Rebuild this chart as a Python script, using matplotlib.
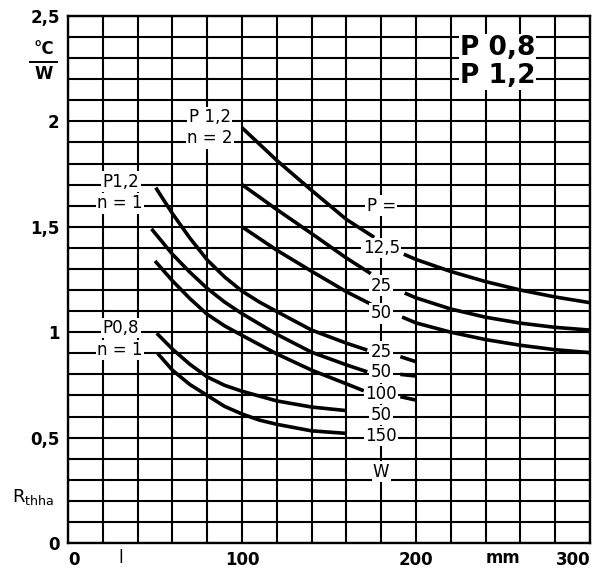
import numpy as np
import matplotlib
matplotlib.use("Agg")
import matplotlib.pyplot as plt
from matplotlib.lines import Line2D

nan = np.nan

# P 1,2  n = 2  (P = 12,5 / 25 / 50 W)
x_n2_125 = [100, 120, 140, 160, 176, nan, 193, 200, 220, 240, 260, 280, 300]
y_n2_125 = [1.97, 1.815, 1.673, 1.535, 1.45, nan, 1.37, 1.345, 1.288, 1.24, 1.20, 1.167, 1.14]
x_n2_25 = [100, 120, 140, 160, 174, nan, 193.5, 200, 220, 240, 260, 280, 300]
y_n2_25 = [1.70, 1.582, 1.468, 1.352, 1.278, nan, 1.186, 1.163, 1.11, 1.071, 1.043, 1.023, 1.01]
x_n2_50 = [100, 120, 140, 160, 176, nan, 192, 200, 220, 240, 260, 280, 300]
y_n2_50 = [1.50, 1.389, 1.289, 1.192, 1.125, nan, 1.072, 1.044, 1.0, 0.965, 0.938, 0.917, 0.903]

# P 1,2  n = 1  (P = 25 / 50 / 100 W)
x_n1_25 = [50.4, 60, 70, 80, 90, 100, 110, 120, 140, 160, 172, nan, 191, 200]
y_n1_25 = [1.686, 1.563, 1.447, 1.343, 1.262, 1.195, 1.143, 1.098, 1.01, 0.948, 0.915, nan, 0.884, 0.86]
x_n1_50 = [48, 60, 70, 80, 90, 100, 120, 140, 160, 172, nan, 191, 200]
y_n1_50 = [1.49, 1.37, 1.285, 1.208, 1.143, 1.088, 0.99, 0.905, 0.845, 0.812, nan, 0.80, 0.792]
x_n1_100 = [50, 60, 70, 80, 90, 100, 120, 140, 160, 170, nan, 191, 200]
y_n1_100 = [1.338, 1.244, 1.16, 1.085, 1.03, 0.985, 0.897, 0.82, 0.755, 0.722, nan, 0.694, 0.678]

# P 0,8  n = 1  (P = 50 / 150 W)
x_p08_50 = [51, 60, 70, 80, 90, 100, 120, 140, 160]
y_p08_50 = [0.995, 0.92, 0.848, 0.788, 0.748, 0.72, 0.674, 0.645, 0.628]
x_p08_150 = [51.5, 60, 70, 80, 90, 100, 110, 120, 140, 160]
y_p08_150 = [0.90, 0.82, 0.752, 0.70, 0.648, 0.612, 0.583, 0.563, 0.532, 0.52]

curves = [
    (x_n2_125, y_n2_125), (x_n2_25, y_n2_25), (x_n2_50, y_n2_50),
    (x_n1_25, y_n1_25), (x_n1_50, y_n1_50), (x_n1_100, y_n1_100),
    (x_p08_50, y_p08_50), (x_p08_150, y_p08_150),
]

# labels along the 180 mm line
p_labels = ["P =", "12,5", "25", "50", "25", "50", "100", "50", "150", "W"]
p_label_y = [1.60, 1.40, 1.22, 1.09, 0.907, 0.81, 0.707, 0.607, 0.507, 0.338]

group_labels = ["P 1,2", "n = 2", "P1,2", "n = 1", "P0,8", "n = 1"]
group_x = [81.5, 81.5, 30.5, 30, 30.5, 30]
group_y = [2.02, 1.92, 1.714, 1.611, 1.02, 0.915]

xtick_vals = [0, 100, 200, 300]
ytick_vals = [0, 0.5, 1, 1.5, 2, 2.5]
ytick_text = ["0", "0,5", "1", "1,5", "2", "2,5"]

plt.rcParams['font.family'] = ['DejaVu Sans']

fig = plt.figure(figsize=(6.05, 5.71), dpi=100)
ax = fig.add_axes([68 / 605, 1 - 543 / 571, (590 - 68) / 605, (543 - 16) / 571])

ax.set_xlim(0, 300)
ax.set_ylim(0, 2.5)

# grid: 20 mm x 0,1 K/W
xt = list(range(0, 301, 20))
ax.set_xticks(xt)
ax.set_xticklabels([str(v) if v in xtick_vals else "" for v in xt],
                   fontsize=12, fontweight='bold')
labels = ax.get_xticklabels()
labels[0].set_ha('left')
labels[-1].set_ha('right')
yt = np.round(np.arange(0, 2.51, 0.1), 2)
ax.set_yticks(yt)
ax.set_yticklabels([ytick_text[ytick_vals.index(v)] if v in ytick_vals else "" for v in yt],
                   fontsize=12, fontweight='bold')
ax.tick_params(length=0, pad=6)
ax.grid(True, color='black', linewidth=1.5)
ax.set_axisbelow(True)
for s in ax.spines.values():
    s.set_linewidth(1.7)

for xs, ys in curves:
    ax.plot(xs, ys, color='black', linewidth=2.6, solid_capstyle='butt',
            solid_joinstyle='round', zorder=3)

box = dict(facecolor='white', edgecolor='none', pad=1.0)
for t, yv in zip(p_labels, p_label_y):
    ax.text(180, yv, t, ha='center', va='center', fontsize=12, bbox=box, zorder=5)

for t, xv, yv in zip(group_labels, group_x, group_y):
    ax.text(xv, yv, t, ha='center', va='center', fontsize=12, bbox=box, zorder=5)

bigbox = dict(facecolor='white', edgecolor='none', pad=0.5)
ax.text(247, 2.347, "P 0,8", ha='center', va='center', fontsize=19,
        fontweight='heavy', bbox=bigbox, zorder=5)
ax.text(247, 2.215, "P 1,2", ha='center', va='center', fontsize=19,
        fontweight='heavy', bbox=bigbox, zorder=5)

# unit labels outside the axes
ax.text(-14, 2.345, "°C", ha='center', va='center', fontsize=12, fontweight='bold', clip_on=False)
ax.text(-14, 2.225, "W", ha='center', va='center', fontsize=12, fontweight='bold', clip_on=False)
fig.add_artist(Line2D([30 / 605, 57 / 605], [1 - 62 / 571, 1 - 62 / 571],
                      color='black', linewidth=1.4))
ax.text(-20, 0.218, r'$\mathsf{R_{thha}}$', ha='center', va='center', fontsize=13, clip_on=False)
ax.text(30, -0.07, "l", ha='center', va='center', fontsize=12, clip_on=False)
ax.text(250, -0.07, "mm", ha='center', va='center', fontsize=12, fontweight='bold', clip_on=False)

fig.savefig("out.png", dpi=100)
